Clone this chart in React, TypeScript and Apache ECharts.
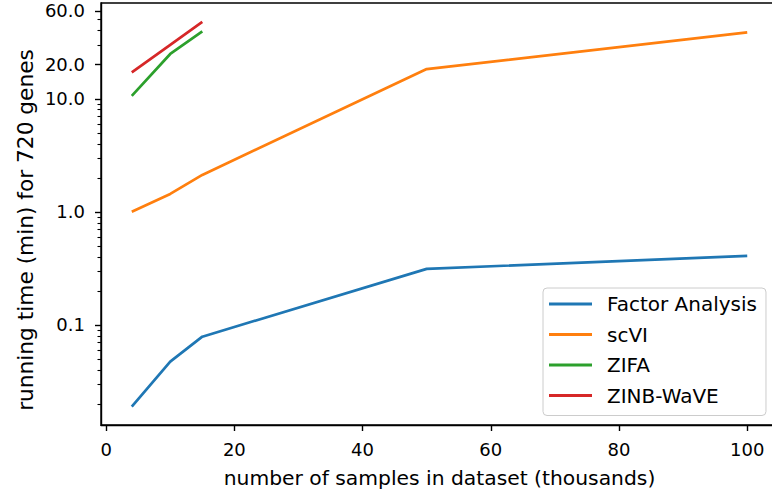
import React, { useEffect, useRef } from "react";
import * as echarts from "echarts";

const seriesNames = ["Factor Analysis", "scVI", "ZIFA", "ZINB-WaVE"];
const seriesColors = ["#1f77b4", "#ff7f0e", "#2ca02c", "#d62728"];
const xSamples = [4, 10, 15, 50, 100];
const xSmall = [4, 10, 15];
const faTimes = [0.0189, 0.0473, 0.0787, 0.313, 0.408];
const scviTimes = [1.0, 1.44, 2.12, 18.3, 38.6];
const zifaTimes = [10.6, 24.9, 39.4];
const zinbTimes = [17.1, 30.0, 47.8];
const xTicks = [0, 20, 40, 60, 80, 100];
const yTickLabels = [0.1, 1, 10, 20, 60];
const yMinorTicks = [
  0.02, 0.03, 0.04, 0.05, 0.06, 0.07, 0.08, 0.09,
  0.2, 0.3, 0.4, 0.5, 0.6, 0.7, 0.8, 0.9,
  2, 3, 4, 5, 6, 7, 8, 9,
  30, 40, 50,
];
const xTitle = "number of samples in dataset (thousands)";
const yTitle = "running time (min) for 720 genes";

const FONT = "DejaVu Sans";
const Y_MIN = Math.log10(0.01303);
const Y_MAX = Math.log10(70.3);

function toPairs(xs: number[], ys: number[]) {
  return xs.map((x, i) => [x, Math.log10(ys[i])]);
}

export default function App() {
  const ref = useRef<HTMLDivElement>(null);
  useEffect(() => {
    if (!ref.current) return;
    const chart = echarts.init(ref.current, null, { renderer: "svg" });
    const seriesData = [
      toPairs(xSamples, faTimes),
      toPairs(xSamples, scviTimes),
      toPairs(xSmall, zifaTimes),
      toPairs(xSmall, zinbTimes),
    ];
    const yAxisBase = {
      type: "value",
      min: Y_MIN,
      max: Y_MAX,
      position: "left",
      splitLine: { show: false },
    };
    chart.setOption({
      animation: false,
      backgroundColor: "#ffffff",
      textStyle: { fontFamily: FONT },
      grid: {
        left: 101,
        top: 3,
        right: -6,
        bottom: 68,
        show: true,
        borderColor: "#000",
        borderWidth: 1.4,
        containLabel: false,
        outerBoundsMode: "none",
      },
      xAxis: {
        type: "value",
        min: -0.8,
        max: 104.8,
        splitLine: { show: false },
        axisLine: { show: true, onZero: false, lineStyle: { color: "#000", width: 1.4 } },
        axisTick: {
          show: true,
          inside: false,
          length: 6,
          customValues: xTicks,
          lineStyle: { color: "#000", width: 1.4 },
        },
        axisLabel: {
          customValues: xTicks,
          margin: 15,
          color: "#000",
          fontSize: 18,
          fontFamily: FONT,
          formatter: (v: number) => String(Math.round(v)),
        },
        name: xTitle,
        nameLocation: "middle",
        nameGap: 43,
        nameTextStyle: { color: "#000", fontSize: 20.3, fontFamily: FONT },
      },
      yAxis: [
        {
          ...yAxisBase,
          axisLine: { show: true, onZero: false, lineStyle: { color: "#000", width: 1.4 } },
          axisTick: {
            show: true,
            inside: false,
            length: 6,
            customValues: yTickLabels.map((v) => Math.log10(v)),
            lineStyle: { color: "#000", width: 1.4 },
          },
          axisLabel: {
            customValues: yTickLabels.map((v) => Math.log10(v)),
            margin: 16,
            color: "#000",
            fontSize: 18,
            fontFamily: FONT,
            formatter: (v: number) => Math.pow(10, v).toFixed(1),
          },
        },
        {
          ...yAxisBase,
          axisLine: { show: false, onZero: false },
          axisTick: {
            show: true,
            inside: false,
            length: 3.5,
            customValues: yMinorTicks.map((v) => Math.log10(v)),
            lineStyle: { color: "#000", width: 1.1 },
          },
          axisLabel: { show: false },
        },
      ],
      legend: {
        orient: "vertical",
        left: 543,
        top: 288,
        padding: [6, 9, 10, 6],
        itemGap: 10.5,
        itemWidth: 43,
        itemHeight: 3,
        icon: "rect",
        backgroundColor: "rgba(255,255,255,0.8)",
        borderColor: "#cccccc",
        borderWidth: 1,
        borderRadius: 4,
        data: seriesNames,
        textStyle: {
          color: "#000",
          fontSize: 20,
          fontFamily: FONT,
          lineHeight: 20,
          padding: [0, 0, 0, 10],
        },
      },
      graphic: [
        {
          type: "text",
          x: 25,
          y: 230,
          rotation: Math.PI / 2,
          style: {
            text: yTitle,
            fill: "#000",
            fontSize: 21.7,
            fontFamily: FONT,
            align: "center",
            verticalAlign: "middle",
          },
        },
      ],
      series: seriesNames.map((name, i) => ({
        name,
        type: "line",
        xAxisIndex: 0,
        yAxisIndex: 0,
        data: seriesData[i],
        showSymbol: false,
        symbol: "none",
        color: seriesColors[i],
        lineStyle: { color: seriesColors[i], width: 2.7 },
        itemStyle: { color: seriesColors[i] },
      })),
    });
    return () => chart.dispose();
  }, []);
  return (
    <div
      ref={ref}
      style={{ position: "fixed", left: 0, top: 0, width: 772, height: 493 }}
    />
  );
}
